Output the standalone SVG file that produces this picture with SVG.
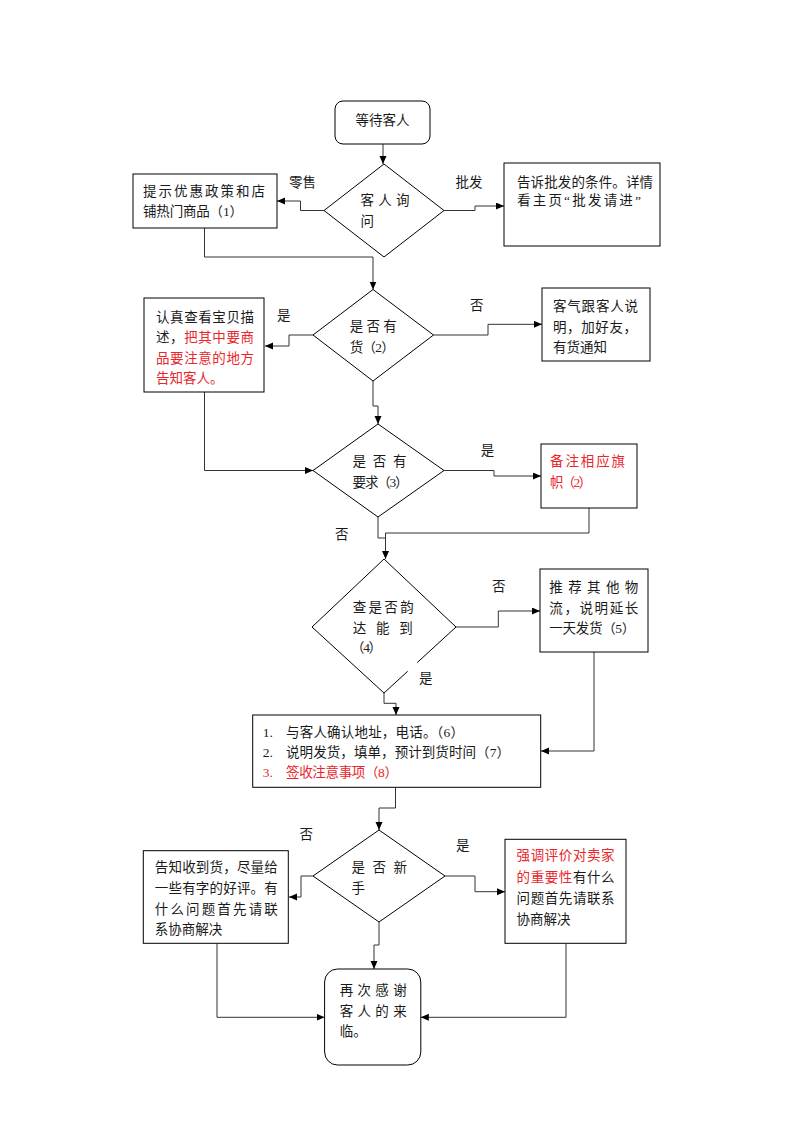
<svg xmlns="http://www.w3.org/2000/svg" width="793" height="1122" viewBox="0 0 793 1122">
<defs>
<marker id="arr" markerUnits="userSpaceOnUse" markerWidth="9" markerHeight="8" refX="8" refY="3.5" orient="auto">
<path d="M0,0 L8,3.5 L0,7 z" fill="#000"/>
</marker>
<style>
.box{fill:#fff;stroke:#000;stroke-width:1}
.con{fill:none;stroke:#333;stroke-width:1}
.arrow{marker-end:url(#arr)}
text{font-family:"Liberation Serif","Noto Sans CJK SC",serif;font-size:13.5px;fill:#1a1a1a}
.red{fill:#e8262b}
</style>
</defs>
<rect width="793" height="1122" fill="#fff"/>

<g id="connectors">
<polyline class="con arrow" points="383,144 383,164"/>
<polyline class="con arrow" points="324,210.5 300.5,210.5 300.5,201 277,201"/>
<polyline class="con arrow" points="444,210.5 475,210.5 475,206 504,206"/>
<polyline class="con arrow" points="204.5,228 204.5,257 373,257 373,289.5"/>
<polyline class="con arrow" points="313,335 289,335 289,346 265,346"/>
<polyline class="con arrow" points="433.5,335 488,335 488,324.3 542,324.3"/>
<polyline class="con arrow" points="373,381 373,406 378,406 378,424"/>
<polyline class="con arrow" points="204.5,392 204.5,470.5 313,470.5"/>
<polyline class="con arrow" points="444,470.5 494,470.5 494,476 541,476"/>
<polyline class="con arrow" points="378,517 378,538 385.5,538 385.5,559"/>
<polyline class="con" points="589,508 589,533 385.5,533 385.5,538"/>
<polyline class="con arrow" points="456,627 498.3,627 498.3,611 540,611"/>
<polyline class="con arrow" points="384,693 384,703.3 396,703.3 396,715"/>
<polyline class="con arrow" points="594,652 594,751 541,751"/>
<polyline class="con arrow" points="395.5,787.3 395.5,808 379,808 379,830"/>
<polyline class="con arrow" points="313,876 301,876 301,897 289,897"/>
<polyline class="con arrow" points="445,876 475,876 475,891.7 505,891.7"/>
<polyline class="con arrow" points="379,922 379,945 374,945 374,969"/>
<polyline class="con arrow" points="217,943.3 217,1017.3 324.6,1017.3"/>
<polyline class="con arrow" points="566,943.3 566,1017.3 420.8,1017.3"/>
<text x="289" y="187">零售</text>
<text x="455.6" y="187">批发</text>
<text x="277" y="320">是</text>
<text x="470" y="310">否</text>
<text x="480.7" y="455">是</text>
<text x="335" y="539">否</text>
<text x="492" y="591">否</text>
<text x="419" y="682.7">是</text>
<text x="299.5" y="839">否</text>
<text x="456" y="849.5">是</text>
</g>

<g id="start">
<rect class="box" x="335" y="101" width="95" height="43" rx="8"/>
<text x="382.5" y="125" text-anchor="middle">等待客人</text>
</g>

<g id="d1">
<polygon class="box" points="384,164 444,210.5 384,257 324,210.5"/>
<text x="360.5" y="205" textLength="49" lengthAdjust="spacing">客人询</text>
<text x="360.5" y="226">问</text>
</g>

<g id="retail">
<rect class="box" x="133" y="174" width="144" height="54"/>
<text x="143" y="195.5" textLength="122" lengthAdjust="spacing">提示优惠政策和店</text>
<text x="143" y="216" textLength="100" lengthAdjust="spacing">铺热门商品（1）</text>
</g>

<g id="wholesale">
<rect class="box" x="504" y="163" width="156" height="83"/>
<text x="517" y="186.5" textLength="136" lengthAdjust="spacing">告诉批发的条件。详情</text>
<text x="517" y="205" textLength="124" lengthAdjust="spacing">看主页“批发请进”</text>
</g>

<g id="d2">
<polygon class="box" points="373,289.5 433.5,335 373,381 313,335"/>
<text x="349.7" y="331" textLength="47" lengthAdjust="spacing">是否有</text>
<text x="349.7" y="352" textLength="45" lengthAdjust="spacing">货（2）</text>
</g>

<g id="check">
<rect class="box" x="144" y="298" width="120" height="94"/>
<text x="156" y="322" textLength="98" lengthAdjust="spacing">认真查看宝贝描</text>
<text x="156" y="342" textLength="98" lengthAdjust="spacing">述，<tspan class="red">把其中要商</tspan></text>
<text class="red" x="156" y="362.5" textLength="98" lengthAdjust="spacing">品要注意的地方</text>
<text class="red" x="156" y="383">告知客人。</text>
</g>

<g id="polite">
<rect class="box" x="542" y="288" width="108" height="73"/>
<text x="553" y="311" textLength="85" lengthAdjust="spacing">客气跟客人说</text>
<text x="553" y="331.5" textLength="84" lengthAdjust="spacing">明，加好友，</text>
<text x="553" y="352">有货通知</text>
</g>

<g id="d3">
<polygon class="box" points="378,424 444,470.5 378,517 313,470.5"/>
<text x="352.6" y="466" textLength="54" lengthAdjust="spacing">是否有</text>
<text x="352.6" y="487" textLength="56" lengthAdjust="spacing">要求（3）</text>
</g>

<g id="note">
<rect class="box" x="541" y="444" width="96" height="64"/>
<text class="red" x="550" y="466" textLength="75" lengthAdjust="spacing">备注相应旗</text>
<text class="red" x="550" y="487" textLength="42" lengthAdjust="spacing">帜（2）</text>
</g>

<g id="d4">
<path class="box" d="M407.7,671.3 L384,693 L312,627 L384,559 L456,627 L417.3,662.5"/>
<text x="352.7" y="612" textLength="61" lengthAdjust="spacing">查是否韵</text>
<text x="352.7" y="632.7" textLength="60" lengthAdjust="spacing">达能到</text>
<text x="351" y="652.3" textLength="31" lengthAdjust="spacing">（4）</text>
</g>

<g id="recommend">
<rect class="box" x="540" y="569" width="108" height="83"/>
<text x="549.3" y="592" textLength="89" lengthAdjust="spacing">推荐其他物</text>
<text x="549.3" y="612.5" textLength="89" lengthAdjust="spacing">流，说明延长</text>
<text x="549.3" y="633" textLength="86" lengthAdjust="spacing">一天发货（5）</text>
</g>

<g id="list">
<rect class="box" x="252.7" y="715" width="288" height="72.3"/>
<text x="262.7" y="737.3">1.</text>
<text x="286" y="737.3" textLength="178" lengthAdjust="spacing">与客人确认地址，电话。（6）</text>
<text x="262.7" y="756.7">2.</text>
<text x="286" y="756.7" textLength="224" lengthAdjust="spacing">说明发货，填单，预计到货时间（7）</text>
<text class="red" x="262.7" y="776.7">3.</text>
<text class="red" x="286" y="776.7" textLength="112" lengthAdjust="spacing">签收注意事项（8）</text>
</g>

<g id="d5">
<polygon class="box" points="379,830 445,876 379,922 313,876"/>
<text x="351.5" y="872" textLength="55.5" lengthAdjust="spacing">是否新</text>
<text x="351.5" y="892.5">手</text>
</g>

<g id="tell">
<rect class="box" x="143.3" y="850.7" width="145" height="92.6"/>
<text x="154.8" y="872" textLength="123" lengthAdjust="spacing">告知收到货，尽量给</text>
<text x="154.8" y="893" textLength="123" lengthAdjust="spacing">一些有字的好评。有</text>
<text x="154.8" y="913.5" textLength="123" lengthAdjust="spacing">什么问题首先请联</text>
<text x="154.8" y="933.5">系协商解决</text>
</g>

<g id="emphasize">
<rect class="box" x="505" y="839.3" width="121" height="104"/>
<text class="red" x="516.6" y="860" textLength="98" lengthAdjust="spacing">强调评价对卖家</text>
<text x="516.6" y="881.5" textLength="98" lengthAdjust="spacing"><tspan class="red">的重要性</tspan>有什么</text>
<text x="516.6" y="902.5" textLength="98" lengthAdjust="spacing">问题首先请联系</text>
<text x="516.6" y="923.5">协商解决</text>
</g>

<g id="end">
<rect class="box" x="324.6" y="969" width="96.2" height="96" rx="13"/>
<text x="339.7" y="995" textLength="67" lengthAdjust="spacing">再次感谢</text>
<text x="339.7" y="1016" textLength="67" lengthAdjust="spacing">客人的来</text>
<text x="339.7" y="1036">临。</text>
</g>
</svg>
